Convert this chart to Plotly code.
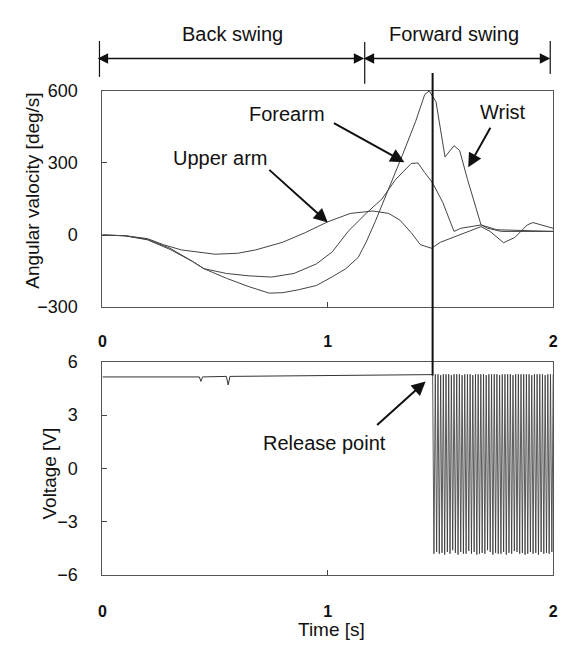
import numpy as np
import plotly.graph_objects as go

# ---------------- data ----------------
# Angular velocity (deg/s) vs time (s)
upper_t = [0, 0.1, 0.2, 0.27, 0.35, 0.5, 0.6, 0.68, 0.8, 0.9, 1.0, 1.1, 1.2, 1.27, 1.32,
           1.37, 1.41, 1.46, 1.5, 1.55, 1.6, 1.68, 1.72, 1.78, 1.83, 1.885, 1.91, 1.95, 2.0]
upper_v = [0, -3, -15, -40, -62, -80, -76, -62, -30, 10, 55, 90, 100, 90, 62,
           10, -40, -55, -30, -12, 5, 35, 15, -32, -10, 42, 52, 40, 28]

fore_t = [0, 0.1, 0.2, 0.3, 0.4, 0.45, 0.55, 0.65, 0.75, 0.85, 0.95, 1.02, 1.09, 1.17, 1.24,
          1.3, 1.37, 1.4, 1.43, 1.465, 1.51, 1.56, 1.59, 1.68, 1.75, 1.85, 2.0]
fore_v = [0, -3, -20, -60, -110, -140, -160, -170, -175, -160, -120, -70, 15, 90, 150,
          230, 298, 300, 260, 217, 136, 15, 28, 42, 22, 18, 15]

wrist_t = [0, 0.1, 0.2, 0.3, 0.4, 0.45, 0.55, 0.65, 0.74, 0.8, 0.87, 0.95, 1.02, 1.08, 1.135,
           1.17, 1.21, 1.27, 1.33, 1.39, 1.43, 1.45, 1.48, 1.52, 1.56, 1.585, 1.62, 1.68,
           1.71, 1.77, 1.86, 2.0]
wrist_v = [0, -3, -18, -55, -110, -140, -180, -215, -242, -240, -228, -210, -174, -140, -93,
           -30, 55, 190, 330, 474, 585, 600, 555, 325, 372, 352, 231, 42,
           28, 15, 15, 15]

# Voltage (V) before release
volt_pre_t = [0, 0.43, 0.437, 0.444, 0.55, 0.558, 0.566, 1.0, 1.465]
volt_pre_v = [5.15, 5.15, 4.9, 5.15, 5.18, 4.7, 5.18, 5.22, 5.28]

# Voltage (V) after release: oscillation levels
volt_osc_v = [5.3, -4.8, 5.3, -4.7, 5.3, -4.8, 5.25, -4.75, 5.3, -4.85, 5.3, -4.7,
              5.3, -4.8, 5.25, -4.6, 5.3, -4.75, 5.3, -4.85, 5.3, -4.7, 5.25, -4.8,
              5.3, -4.8, 5.3, -4.65, 5.3, -4.8, 5.25, -4.7, 5.3, -4.85, 5.3, -4.8,
              5.3, -4.75, 5.3, -4.8, 5.25, -4.6, 5.3, -4.7, 5.3, -4.85, 5.3, -4.75,
              5.3, -4.8, 5.25, -4.8, 5.3, -4.7, 5.3, -4.85, 5.3, -4.75, 5.3, -4.8,
              5.25, -4.65, 5.3, -4.7, 5.3, -4.8, 5.3, -4.75, 5.3, -4.85, 5.3, -4.8,
              5.3, -4.7, 5.25, -4.8, 5.3, -4.75, 5.3, -4.85, 5.3, -4.7, 5.3, -4.8,
              5.25, -4.75, 5.3, -4.8, 5.3, -4.7, 5.3]
release_t = 1.465
t_end = 2.0

x_ticks = [0, 1, 2]
y1_ticks = [-300, 0, 300, 600]
y2_ticks = [-6, -3, 0, 3, 6]

# --------------- figure ---------------
W, H = 570, 650
FONT = "Liberation Sans, Arial, sans-serif"


def px_x(p):
    return p / W


def px_y(p):
    return 1 - p / H


fig = go.Figure()

for t, v in [(upper_t, upper_v), (fore_t, fore_v), (wrist_t, wrist_v)]:
    fig.add_trace(go.Scatter(x=t, y=v, mode="lines", line=dict(color="#444", width=1),
                             xaxis="x", yaxis="y", showlegend=False, hoverinfo="skip"))

osc_t = np.linspace(release_t, t_end, len(volt_osc_v))
fig.add_trace(go.Scatter(x=volt_pre_t, y=volt_pre_v, mode="lines",
                         line=dict(color="#333", width=1), xaxis="x2", yaxis="y2",
                         showlegend=False, hoverinfo="skip"))
fig.add_trace(go.Scatter(x=list(osc_t), y=volt_osc_v, mode="lines",
                         line=dict(color="#333", width=0.8), xaxis="x2", yaxis="y2",
                         showlegend=False, hoverinfo="skip"))

xdom = [px_x(100), px_x(558)]
axis_common = dict(showline=True, mirror=True, linecolor="#555", linewidth=1,
                   ticks="inside", ticklen=5, tickcolor="#444", showgrid=False,
                   zeroline=False)

fig.update_layout(
    width=W, height=H, margin=dict(l=0, r=0, t=0, b=0),
    plot_bgcolor="white", paper_bgcolor="white",
    font=dict(family=FONT, size=16, color="#111"),
    xaxis=dict(domain=xdom, range=[0, t_end], tickvals=x_ticks, anchor="y",
               tickfont=dict(size=16, weight="bold"), ticklabelstandoff=20, **axis_common),
    yaxis=dict(domain=[px_y(306.5), px_y(83.5)], range=[-300, 600], tickvals=y1_ticks,
               anchor="x", ticklabelstandoff=20, tickfont=dict(size=18), **axis_common),
    xaxis2=dict(domain=xdom, range=[0, t_end], tickvals=x_ticks, anchor="y2",
                tickfont=dict(size=16, weight="bold"), ticklabelstandoff=22, **axis_common),
    yaxis2=dict(domain=[px_y(583), px_y(363)], range=[-6, 6], tickvals=y2_ticks,
                anchor="x2", ticklabelstandoff=20, tickfont=dict(size=18), **axis_common),
)

shapes = []
# vertical bars of the phase markers
for xp, y0, y1 in [(97, 32, 69), (366.5, 33, 76), (555, 32, 66)]:
    shapes.append(dict(type="line", xref="paper", yref="paper", x0=px_x(xp), x1=px_x(xp),
                       y0=px_y(y0), y1=px_y(y1), line=dict(color="#111", width=1.2)))
# release line crossing both panels
shapes.append(dict(type="line", xref="x", yref="paper", x0=release_t, x1=release_t,
                   y0=px_y(65), y1=px_y(377), line=dict(color="#111", width=2)))
fig.update_layout(shapes=shapes)

ann = []


def text(txt, xp, yp, size=20, angle=0):
    ann.append(dict(xref="paper", yref="paper", x=px_x(xp), y=px_y(yp), text=txt,
                    xanchor="center", yanchor="middle", textangle=angle,
                    showarrow=False, font=dict(size=size)))


# double arrows for Back swing / Forward swing
for xa, xb in [(98, 366), (367, 555)]:
    ann.append(dict(xref="paper", yref="paper", x=px_x(xb), y=px_y(50),
                    ax=xa - xb, ay=0, text="", showarrow=True, arrowhead=2,
                    arrowside="end+start", arrowsize=1.3, arrowwidth=1.6, arrowcolor="#111"))
text("Back swing", 232, 25)
text("Forward swing", 457, 25)


# labelled arrows
def arrow(xr, yr, x, y, ax, ay):
    ann.append(dict(xref=xr, yref=yr, x=x, y=y, ax=ax, ay=ay, text="", showarrow=True,
                    arrowhead=2, arrowsize=1.4, arrowwidth=2, arrowcolor="#111"))


arrow("x", "y", 1.0, 52, -60, -54)        # Upper arm
arrow("x", "y", 1.34, 303, -72, -40)      # Forearm
arrow("x", "y", 1.623, 282, 23, -41)      # Wrist
arrow("x2", "y2", 1.434, 4.9, -50, 45)    # Release point

text("Upper arm", 219, 153)
text("Forearm", 288, 107)
text("Wrist", 507, 105)
text("Release point", 326, 447)

# axis titles
text("Angular valocity [deg/s]", 29, 187, size=19, angle=-90)
text("Voltage [V]", 46, 478, size=19, angle=-90)
text("Time [s]", 333, 639, size=19)
fig.update_layout(annotations=ann)

fig.write_html("out.html")
